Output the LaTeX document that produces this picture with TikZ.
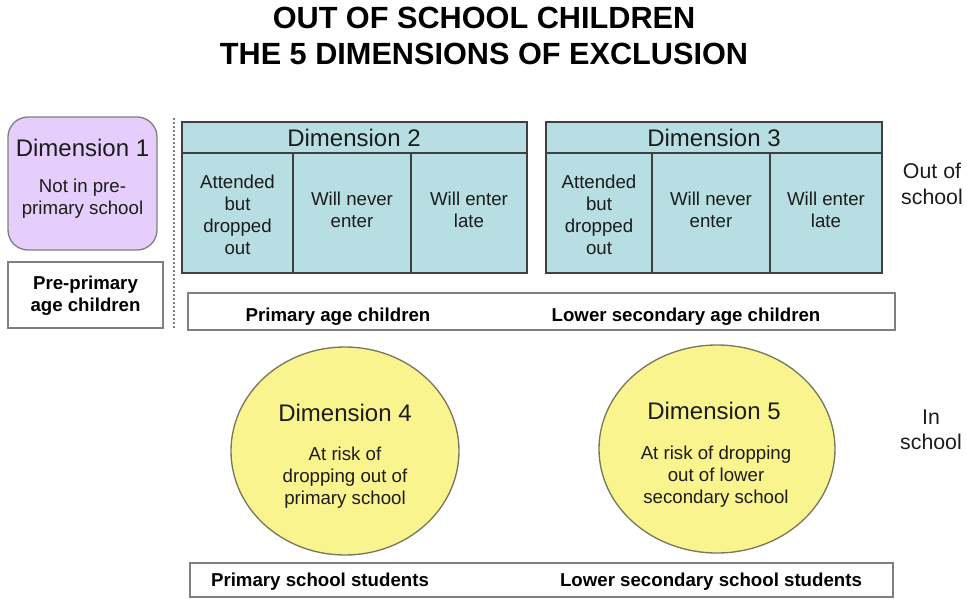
\documentclass[tikz,border=0pt]{standalone}
\usepackage{fontspec}
\setmainfont{Liberation Sans}
\usepackage{tikz}
\usepackage{xcolor}

\definecolor{dimteal}{RGB}{183,222,226}
\definecolor{dimlilac}{RGB}{229,206,252}
\definecolor{dimyellow}{RGB}{250,244,143}
\definecolor{edgegrey}{RGB}{128,128,128}
\definecolor{ovalgrey}{RGB}{120,120,95}
\definecolor{tabledge}{RGB}{64,64,64}
\definecolor{textgrey}{RGB}{28,28,28}

\tikzset{
  titletext/.style={inner sep=0.75pt, font=\bfseries\fontsize{23pt}{26pt}\selectfont},
  headtext/.style={inner sep=0.75pt, text=textgrey, font=\fontsize{18pt}{21pt}\selectfont},
  celltext/.style={inner sep=0.75pt, text=textgrey, align=center, font=\fontsize{14pt}{16.5pt}\selectfont},
  agetext/.style={inner sep=0.75pt, align=center, font=\bfseries\fontsize{14pt}{16.5pt}\selectfont},
  sidetext/.style={inner sep=0.75pt, text=textgrey, align=center, font=\fontsize{16pt}{19pt}\selectfont},
  tablebox/.style={draw=tabledge, fill=dimteal, line width=1.1pt},
  agebox/.style={draw=edgegrey, fill=white, line width=1pt},
  riskoval/.style={draw=ovalgrey, fill=dimyellow, line width=1pt},
}

\begin{document}
\begin{tikzpicture}[x=0.75pt,y=0.75pt,yscale=-1,xscale=1]
\useasboundingbox (0,0) rectangle (967,599);

% Text Node
\draw (484,29) node (titleone) [anchor=base][titletext] {OUT OF SCHOOL CHILDREN};
% Text Node
\draw (484,65) node (titletwo) [anchor=base][titletext] {THE 5 DIMENSIONS OF EXCLUSION};

%Shape: Rounded Rect
\draw [draw=edgegrey, fill=dimlilac, line width=1pt, rounded corners=15pt] (8,117) rectangle (157,250) ;
%Shape: Rectangle
\draw [agebox] (8,262) rectangle (163,328) ;
%Straight Lines
\draw [edgegrey, line width=0.8pt, dash pattern=on 1.5pt off 1.5pt] (174,118) -- (174,330) ;

%Shape: Rectangle
\draw [tablebox] (182,122) rectangle (527,273) ;
%Straight Lines
\draw [tabledge, line width=1.1pt] (182,153) -- (527,153) (293,153) -- (293,273) (411,153) -- (411,273) ;
%Shape: Rectangle
\draw [tablebox] (546,122) rectangle (882,273) ;
%Straight Lines
\draw [tabledge, line width=1.1pt] (546,153) -- (882,153) (652,153) -- (652,273) (770,153) -- (770,273) ;

%Shape: Rectangle
\draw [agebox] (188,293) rectangle (895,330) ;

%Shape: Ellipse
\draw [riskoval] (345,451) ellipse (114 and 104) ;
%Shape: Ellipse
\draw [riskoval] (717,449) ellipse (118 and 104) ;

%Shape: Rectangle
\draw [agebox] (190,563) rectangle (893,597) ;

% Text Node
\draw (82.5,156.5) node (dimonehead) [anchor=base][headtext] {Dimension 1};
% Text Node
\draw (82.5,199) node (dimonetext) [celltext] {Not in pre-\\primary school};
% Text Node
\draw (85.5,296) node (preage) [agetext] {Pre-primary\\age children};

% Text Node
\draw (354,146.5) node (dimtwohead) [anchor=base][headtext] {Dimension 2};
% Text Node
\draw (237.5,215) node (dimtwodrop) [celltext] {Attended\\but\\dropped\\out};
% Text Node
\draw (352,210) node (dimtwonever) [celltext] {Will never\\enter};
% Text Node
\draw (469,210) node (dimtwolate) [celltext] {Will enter\\late};

% Text Node
\draw (714,146.5) node (dimthreehead) [anchor=base][headtext] {Dimension 3};
% Text Node
\draw (599,215) node (dimthreedrop) [celltext] {Attended\\but\\dropped\\out};
% Text Node
\draw (711,210) node (dimthreenever) [celltext] {Will never\\enter};
% Text Node
\draw (826,210) node (dimthreelate) [celltext] {Will enter\\late};

% Text Node
\draw (338,321.5) node (primage) [anchor=base][agetext] {Primary age children};
% Text Node
\draw (686,321.5) node (lowsecage) [anchor=base][agetext] {Lower secondary age children};

% Text Node
\draw (345,421.5) node (dimfourhead) [anchor=base][headtext] {Dimension 4};
% Text Node
\draw (345,478) node (dimfourtext) [celltext] {At risk of\\dropping out of\\primary school};
% Text Node
\draw (714,419) node (dimfivehead) [anchor=base][headtext] {Dimension 5};
% Text Node
\draw (716,477) node (dimfivetext) [celltext] {At risk of dropping\\out of lower\\secondary school};

% Text Node
\draw (320,586.5) node (primstud) [anchor=base][agetext] {Primary school students};
% Text Node
\draw (711,586.5) node (lowsecstud) [anchor=base][agetext] {Lower secondary school students};

% Text Node
\draw (932,184) node (outschool) [sidetext] {Out of\\school};
% Text Node
\draw (931,430) node (inschool) [sidetext] {In\\school};
\end{tikzpicture}
\end{document}
